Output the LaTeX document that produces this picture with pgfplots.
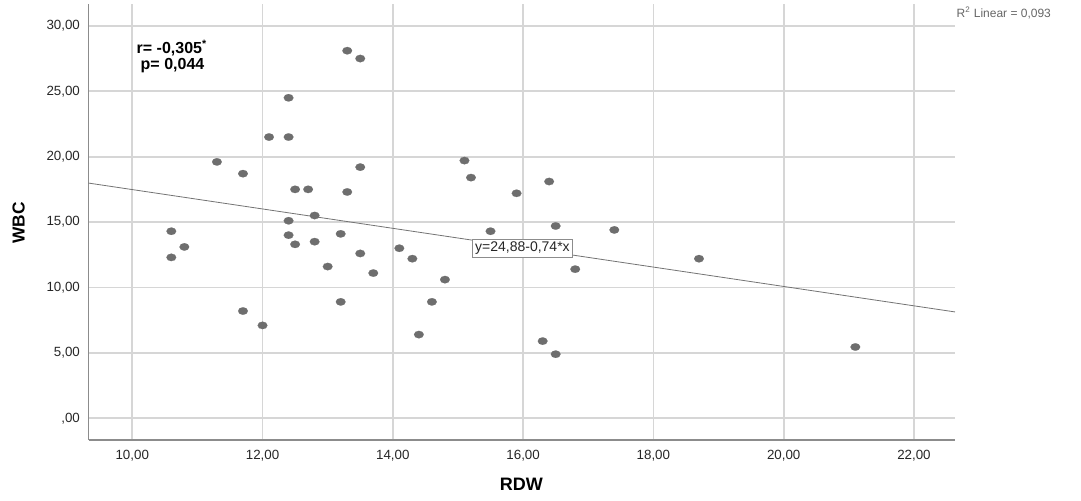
\documentclass[border=0pt]{standalone}
\usepackage{pgfplots}
\pgfplotsset{compat=1.18}
\usepackage{fontspec}
\setmainfont{Liberation Sans}
\definecolor{pt}{HTML}{6E6E6E}
\definecolor{grd}{HTML}{D6D6D6}
\definecolor{axl}{HTML}{8C8C8C}
\begin{document}
\begin{tikzpicture}
\path[use as bounding box] (0,0) rectangle (810.75pt,375pt);
\begin{axis}[
  scale only axis,
  width=649.8pt, height=327pt,
  at={(66.45pt,45pt)}, anchor=south west,
  xmin=9.33, xmax=22.63, ymin=-1.66, ymax=31.67,
  axis x line=bottom, axis y line=left,
  axis line style={-, draw=axl, line width=0.9pt},
  xtick={10,12,14,16,18,20,22},
  xticklabels={{10,00},{12,00},{14,00},{16,00},{18,00},{20,00},{22,00}},
  ytick={0,5,10,15,20,25,30},
  yticklabels={{,00},{5,00},{10,00},{15,00},{20,00},{25,00},{30,00}},
  major tick length=0pt,
  tick label style={font=\fontsize{10}{11}\selectfont, text=black!85},
  xticklabel style={yshift=-4pt},
  yticklabel style={xshift=-3pt},
  grid=major,
  major grid style={draw=grd, line width=1.3pt},
  clip=false,
]
\addplot[draw=black!55, line width=0.6pt, forget plot] coordinates {(9.33,17.98) (22.63,8.13)};
\addplot[only marks, color=pt, mark=*, mark size=2.8pt, mark options={xscale=1.3, fill=pt, draw=pt, line width=0.1pt}] coordinates {
(12.1,21.5) (12.4,21.5) (11.3,19.6) (11.7,18.7) (13.5,19.2)
(12.5,17.5) (12.7,17.5) (13.3,17.3) (12.8,15.5) (12.4,15.1)
(10.6,14.3) (12.4,14.0) (13.2,14.1) (10.8,13.1) (12.5,13.3)
(12.8,13.5) (10.6,12.3) (13.5,12.6) (14.1,13.0) (14.3,12.2)
(13.0,11.6) (13.7,11.1) (14.8,10.6) (13.2,8.9) (14.6,8.9)
(11.7,8.2) (12.0,7.1) (14.4,6.4)
(13.3,28.1) (13.5,27.5) (12.4,24.5)
(15.1,19.7) (15.2,18.4) (16.4,18.1) (15.9,17.2) (15.5,14.3)
(16.5,14.7) (17.4,14.4) (16.8,11.4) (18.7,12.2) (16.3,5.9)
(16.5,4.9) (21.1,5.45)
};
\node[draw=black!45, fill=white, inner sep=2pt, font=\fontsize{10.5}{12}\selectfont, text=black!85] at (axis cs:15.99,13.02) {y=24,88-0,74*x};
\end{axis}
\node[font=\bfseries\fontsize{12}{14}\selectfont, anchor=west] at (99pt,339pt) {r= -0,305\textsuperscript{*}};
\node[font=\bfseries\fontsize{12}{14}\selectfont, anchor=west] at (102pt,326pt) {p= 0,044};
\node[font=\bfseries\fontsize{13}{15}\selectfont, rotate=90] at (14pt,208pt) {WBC};
\node[font=\bfseries\fontsize{13.5}{15}\selectfont] at (391pt,12pt) {RDW};
\node[font=\fontsize{9}{10}\selectfont, text=black!60, anchor=west] at (714pt,365pt) {R\textsuperscript{2} Linear = 0,093};
\end{tikzpicture}
\end{document}
